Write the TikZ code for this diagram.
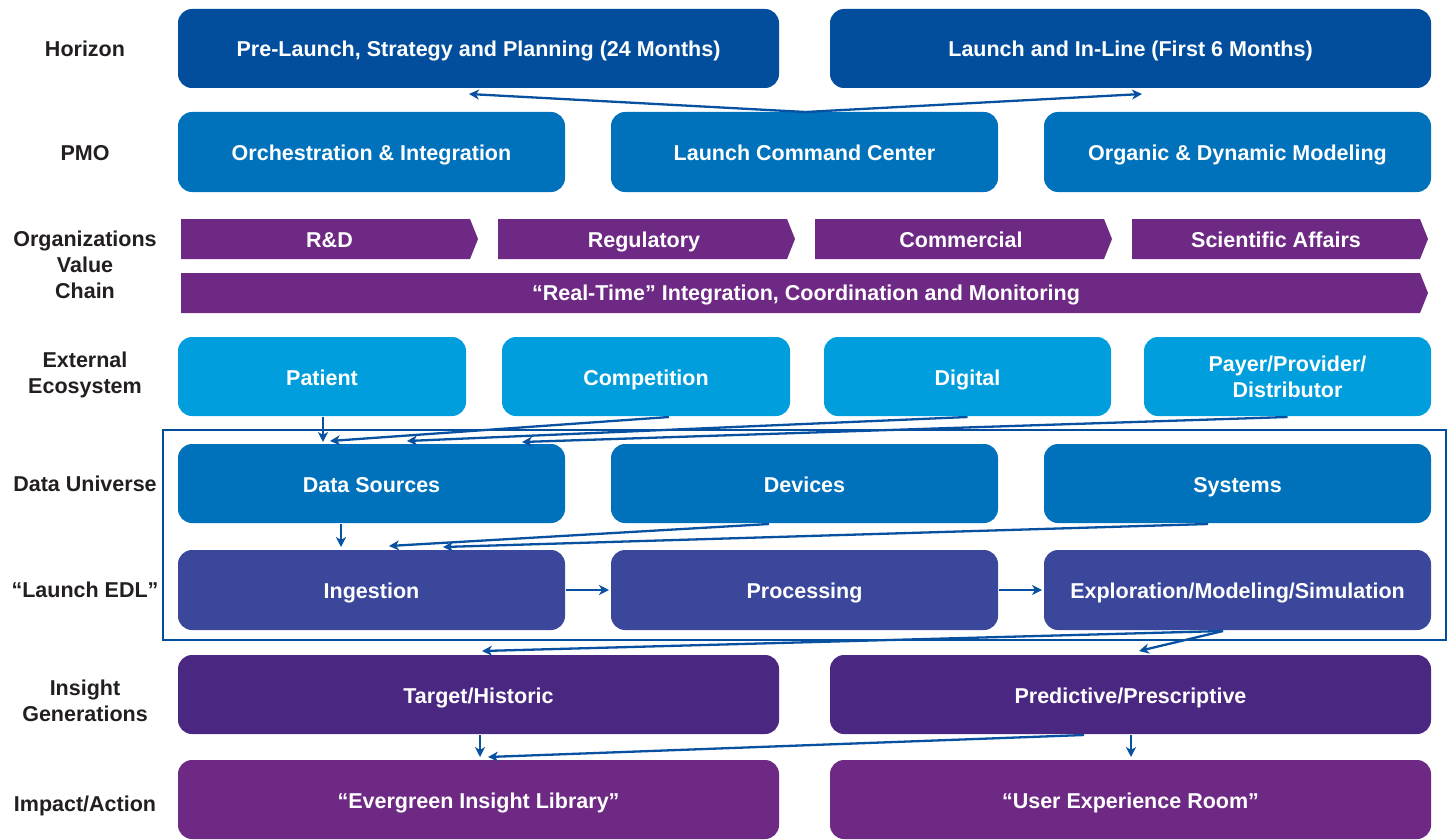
\documentclass[tikz,border=0pt]{standalone}
\usepackage{fontspec}
\setmainfont{Liberation Sans}
\usetikzlibrary{arrows.meta,calc}
\definecolor{hzblue}{RGB}{3,78,156}
\definecolor{pmoblue}{RGB}{0,114,188}
\definecolor{extblue}{RGB}{0,158,220}
\definecolor{edlblue}{RGB}{59,71,155}
\definecolor{insviolet}{RGB}{74,40,130}
\definecolor{vcpurple}{RGB}{109,41,131}
\definecolor{arrblue}{RGB}{8,80,160}
\definecolor{labgray}{RGB}{35,31,32}
\tikzset{
  boxbase/.style={rectangle, rounded corners=14pt, minimum height=79pt, inner sep=0pt, outer sep=0pt, text=white, align=center},
  box/.style={boxbase, text height=19pt, text depth=2pt},
  lab/.style={text=labgray, align=center, inner sep=0pt},
  labone/.style={lab, text height=19pt, text depth=2pt},
  vctext/.style={text=white, inner sep=0pt, text height=18.5pt, text depth=2.5pt},
  arr/.style={draw=arrblue, line width=2.3pt, -{Stealth[length=10pt,width=10pt,inset=3pt]}},
  frame/.style={draw=hzblue, line width=2.5pt}
}
\begin{document}
\begin{tikzpicture}[x=1pt,y=-1pt, font=\fontsize{21.5}{26}\selectfont\bfseries]
\useasboundingbox (0,0) rectangle (1450,840);

% left labels
\node[labone] (lhz) at (85,48) {Horizon};
\node[labone] (lpmo) at (85,152) {PMO};
\node[lab] (lvc) at (85,265) {Organizations\\Value\\Chain};
\node[lab] (lext) at (85,374.5) {External\\Ecosystem};
\node[labone] (ldu) at (85,483) {Data Universe};
\node[labone] (ledl) at (85,589) {“Launch EDL”};
\node[lab] (lins) at (85,700.5) {Insight\\Generations};
\node[labone] (limp) at (85,803) {Impact/Action};

% horizon
\node[box, fill=hzblue, minimum width=601pt] (h1) at (478.5,48.5) {Pre-Launch, Strategy and Planning (24 Months)};
\node[box, fill=hzblue, minimum width=601pt] (h2) at (1130.5,48.5) {Launch and In-Line (First 6 Months)};

% PMO
\node[box, fill=pmoblue, minimum width=387pt, minimum height=80pt] (p1) at (371.5,152) {Orchestration \& Integration};
\node[box, fill=pmoblue, minimum width=387pt, minimum height=80pt] (p2) at (804.5,152) {Launch Command Center};
\node[box, fill=pmoblue, minimum width=387pt, minimum height=80pt] (p3) at (1237.5,152) {Organic \& Dynamic Modeling};

% value chain
\fill[vcpurple] (181,219) -- (470,219) -- (478,239) -- (470,259) -- (181,259) -- cycle;
\fill[vcpurple] (498,219) -- (787,219) -- (795,239) -- (787,259) -- (498,259) -- cycle;
\fill[vcpurple] (815,219) -- (1104,219) -- (1112,239) -- (1104,259) -- (815,259) -- cycle;
\fill[vcpurple] (1132,219) -- (1420,219) -- (1428,239) -- (1420,259) -- (1132,259) -- cycle;
\fill[vcpurple] (181,273) -- (1420,273) -- (1428,293) -- (1420,313) -- (181,313) -- cycle;
\node[vctext] (vc1) at (329.5,239) {R\&D};
\node[vctext] (vc2) at (644,239) {Regulatory};
\node[vctext] (vc3) at (961,239) {Commercial};
\node[vctext] (vc4) at (1276,239) {Scientific Affairs};
\node[vctext] (vc5) at (806,292.5) {“Real-Time” Integration, Coordination and Monitoring};

% external ecosystem
\node[box, fill=extblue, minimum width=288pt] (e1) at (322,376.5) {Patient};
\node[box, fill=extblue, minimum width=288pt] (e2) at (646,376.5) {Competition};
\node[box, fill=extblue, minimum width=287pt] (e3) at (967.5,376.5) {Digital};
\node[boxbase, fill=extblue, minimum width=287pt] (e4) at (1287.5,376.5) {Payer/Provider/\\Distributor};

% frame
\draw[frame] (163,430) rectangle (1446,640);

% data universe
\node[box, fill=pmoblue, minimum width=387pt] (d1) at (371.5,483.5) {Data Sources};
\node[box, fill=pmoblue, minimum width=387pt] (d2) at (804.5,483.5) {Devices};
\node[box, fill=pmoblue, minimum width=387pt] (d3) at (1237.5,483.5) {Systems};

% launch EDL
\node[box, fill=edlblue, minimum width=387pt, minimum height=80pt] (l1) at (371.5,590) {Ingestion};
\node[box, fill=edlblue, minimum width=387pt, minimum height=80pt] (l2) at (804.5,590) {Processing};
\node[box, fill=edlblue, minimum width=387pt, minimum height=80pt] (l3) at (1237.5,590) {Exploration/Modeling/Simulation};

% insight
\node[box, fill=insviolet, minimum width=601pt] (i1) at (478.5,694.5) {Target/Historic};
\node[box, fill=insviolet, minimum width=601pt] (i2) at (1130.5,694.5) {Predictive/Prescriptive};

% impact
\node[box, fill=vcpurple, minimum width=601pt] (m1) at (478.5,799.5) {“Evergreen Insight Library”};
\node[box, fill=vcpurple, minimum width=601pt] (m2) at (1130.5,799.5) {“User Experience Room”};

% connectors
\draw[arr] ($(p2.north)+(1,0)$) -- ($(h1.south)+(-9.5,6)$);
\draw[arr] ($(p2.north)+(1,0)$) -- ($(h2.south)+(11.5,6)$);

\draw[arr] ($(e1.south)+(1,1)$) -- ($(d1.north)+(-48.5,-2)$);
\draw[arr] ($(e2.south)+(23,1)$) -- ($(d1.north)+(-41.5,-3)$);
\draw[arr] ($(e3.south)+(0,1)$) -- ($(d1.north)+(35.5,-3)$);
\draw[arr] ($(e4.south)+(0,1)$) -- ($(d1.north)+(150.5,-2)$);

\draw[arr] ($(d1.south)+(-30.5,1)$) -- ($(l1.north)+(-30.5,-3)$);
\draw[arr] ($(d2.south)+(-35.5,1)$) -- ($(l1.north)+(17.5,-4)$);
\draw[arr] ($(d3.south)+(-29.5,1)$) -- ($(l1.north)+(71.5,-3)$);

\draw[arr] ($(l1.east)+(1,0)$) -- ($(l2.west)+(-2,0)$);
\draw[arr] ($(l2.east)+(1,0)$) -- ($(l3.west)+(-2,0)$);

\draw[arr] ($(l3.south)+(-14.5,1)$) -- ($(i1.north)+(3.5,-4)$);
\draw[arr] ($(l3.south)+(-14.5,1)$) -- ($(i2.north)+(8.5,-4)$);

\draw[arr] ($(i1.south)+(1.5,1)$) -- ($(m1.north)+(1.5,-3)$);
\draw[arr] ($(i2.south)+(-46.5,1)$) -- ($(m1.north)+(9.5,-3)$);
\draw[arr] ($(i2.south)+(0.5,1)$) -- ($(m2.north)+(0.5,-3)$);
\end{tikzpicture}
\end{document}
